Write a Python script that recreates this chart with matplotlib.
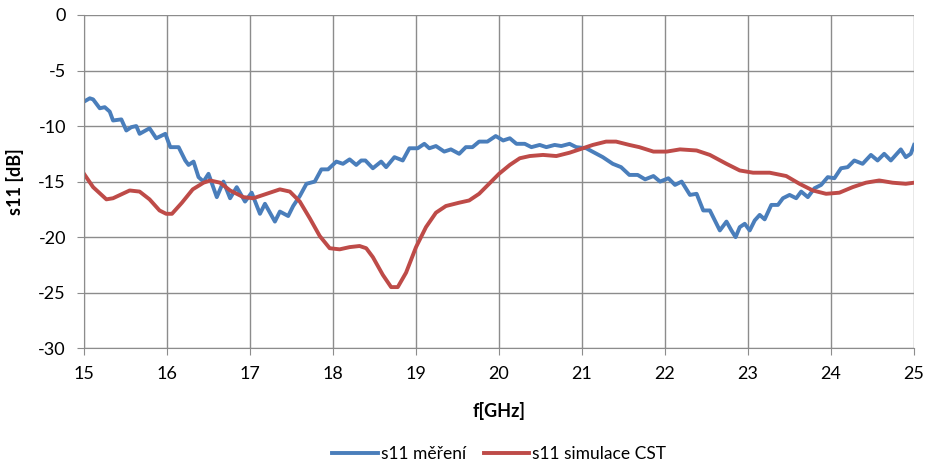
import numpy as np
import matplotlib.pyplot as plt

plt.rcParams['font.family'] = ['Lato', 'DejaVu Sans']
plt.rcParams['axes.unicode_minus'] = False

# measured s11
f_mer = [15.0, 15.07, 15.11, 15.19, 15.25, 15.31, 15.35, 15.45, 15.51, 15.57, 15.63, 15.67,
         15.79, 15.87, 15.98, 16.04, 16.14, 16.22, 16.26, 16.32, 16.38, 16.44, 16.50, 16.60,
         16.68, 16.76, 16.84, 16.94, 17.02, 17.12, 17.18, 17.30, 17.36, 17.46, 17.52, 17.60,
         17.68, 17.78, 17.86, 17.94, 18.04, 18.12, 18.20, 18.28, 18.34, 18.39, 18.48, 18.58,
         18.64, 18.74, 18.84, 18.92, 19.02, 19.10, 19.16, 19.24, 19.34, 19.42, 19.52, 19.60,
         19.68, 19.76, 19.86, 19.96, 20.05, 20.13, 20.21, 20.31, 20.39, 20.49, 20.57, 20.67,
         20.75, 20.85, 20.93, 21.05, 21.15, 21.25, 21.37, 21.47, 21.57, 21.67, 21.76, 21.86,
         21.94, 22.04, 22.12, 22.20, 22.30, 22.38, 22.46, 22.54, 22.60, 22.66, 22.74, 22.80,
         22.85, 22.90, 22.96, 23.02, 23.08, 23.14, 23.20, 23.28, 23.36, 23.42, 23.50, 23.58,
         23.64, 23.72, 23.80, 23.88, 23.96, 24.04, 24.12, 24.20, 24.28, 24.38, 24.48, 24.56,
         24.64, 24.72, 24.84, 24.90, 24.96, 25.0]
s11_mer = [-7.8, -7.5, -7.6, -8.4, -8.3, -8.7, -9.5, -9.4, -10.4, -10.1, -10.0, -10.7,
           -10.2, -11.1, -10.7, -11.9, -11.9, -13.1, -13.5, -13.2, -14.6, -15.0, -14.3, -16.4,
           -15.0, -16.5, -15.5, -16.8, -16.0, -17.9, -17.0, -18.6, -17.7, -18.1, -17.2, -16.3,
           -15.2, -15.0, -13.9, -13.9, -13.2, -13.4, -13.0, -13.5, -13.1, -13.1, -13.8, -13.2,
           -13.7, -12.8, -13.1, -12.0, -12.0, -11.6, -12.0, -11.8, -12.3, -12.1, -12.5, -11.9,
           -11.9, -11.4, -11.4, -10.9, -11.3, -11.1, -11.6, -11.6, -11.9, -11.7, -11.9, -11.7,
           -11.8, -11.6, -11.9, -12.0, -12.4, -12.8, -13.4, -13.7, -14.4, -14.4, -14.8, -14.5,
           -15.0, -14.7, -15.3, -15.0, -16.2, -16.1, -17.6, -17.6, -18.5, -19.4, -18.6, -19.4,
           -20.0, -19.1, -18.8, -19.4, -18.5, -18.0, -18.4, -17.1, -17.1, -16.5, -16.2, -16.5,
           -15.9, -16.4, -15.6, -15.3, -14.6, -14.7, -13.8, -13.7, -13.1, -13.4, -12.6, -13.1,
           -12.5, -13.1, -12.1, -12.8, -12.5, -11.7]

# CST simulation
f_sim = [15.0, 15.11, 15.27, 15.35, 15.55, 15.67, 15.79, 15.91, 15.99, 16.06, 16.18, 16.31,
         16.44, 16.52, 16.64, 16.76, 16.92, 17.04, 17.20, 17.36, 17.48, 17.60, 17.72, 17.84,
         17.96, 18.08, 18.20, 18.32, 18.40, 18.48, 18.60, 18.70, 18.78, 18.88, 19.00, 19.12,
         19.24, 19.36, 19.52, 19.64, 19.76, 19.88, 20.00, 20.13, 20.25, 20.37, 20.53, 20.69,
         20.85, 20.97, 21.13, 21.29, 21.41, 21.57, 21.69, 21.86, 22.02, 22.18, 22.38, 22.54,
         22.74, 22.90, 23.06, 23.26, 23.46, 23.62, 23.78, 23.94, 24.10, 24.26, 24.42, 24.58,
         24.74, 24.90, 25.0]
s11_sim = [-14.3, -15.5, -16.6, -16.5, -15.8, -15.9, -16.6, -17.6, -17.9, -17.9, -16.9, -15.7,
           -15.1, -14.9, -15.1, -15.8, -16.4, -16.5, -16.1, -15.7, -15.9, -16.8, -18.3, -19.9,
           -21.0, -21.1, -20.9, -20.8, -21.0, -21.8, -23.4, -24.5, -24.5, -23.2, -20.9, -19.1,
           -17.8, -17.2, -16.9, -16.7, -16.1, -15.2, -14.3, -13.5, -12.9, -12.7, -12.6, -12.7,
           -12.4, -12.1, -11.7, -11.4, -11.4, -11.7, -11.9, -12.3, -12.3, -12.1, -12.2, -12.6,
           -13.4, -14.0, -14.2, -14.2, -14.5, -15.2, -15.8, -16.1, -16.0, -15.5, -15.1, -14.9,
           -15.1, -15.2, -15.1]

fig = plt.figure(figsize=(9.28, 4.68), dpi=100)
ax = fig.add_axes([0.0905, 0.256, 0.8945, 0.712])

ax.plot(f_mer, s11_mer, color='#4A7EBB', lw=2.8, label='s11 měření', solid_joinstyle='round')
ax.plot(f_sim, s11_sim, color='#BE4B48', lw=2.8, label='s11 simulace CST', solid_joinstyle='round')

ax.set_xlim(15, 25)
ax.set_ylim(-30, 0)
ax.set_xticks(np.arange(15, 26, 1))
ax.set_yticks(np.arange(-30, 1, 5))
ax.grid(True, color='#8C8C8C', lw=1)
ax.set_axisbelow(True)
for s in ['top', 'right']:
    ax.spines[s].set_visible(False)
for s in ['left', 'bottom']:
    ax.spines[s].set_color('#8C8C8C')
ax.tick_params(direction='out', length=5, color='#8C8C8C', labelsize=13, pad=8)

ax.set_xlabel('f[GHz]', fontsize=13, fontweight='bold', labelpad=14)
ax.set_ylabel('s11 [dB]', fontsize=13, fontweight='bold', labelpad=10)

fig.legend(loc='lower center', ncol=2, frameon=False, fontsize=12.5,
           bbox_to_anchor=(0.538, -0.02), handlelength=2.6, columnspacing=1.0, handletextpad=0.2)

fig.savefig('out.png', dpi=100)
